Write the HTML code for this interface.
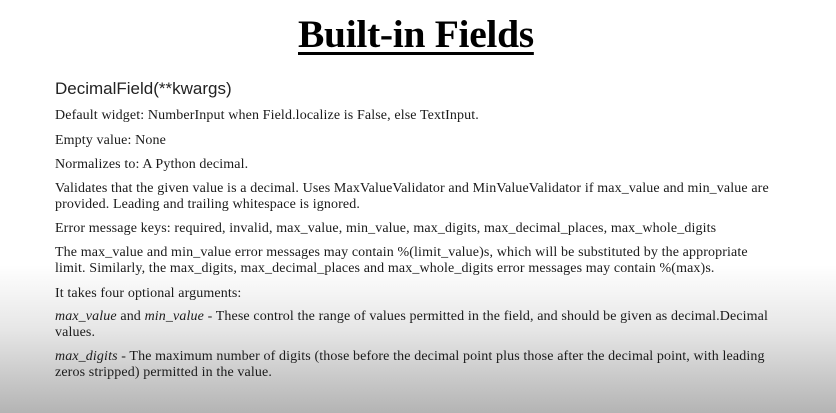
<!DOCTYPE html>
<html><head><meta charset="utf-8"><style>
body{margin:0;width:836px;height:413px;overflow:hidden;position:relative;
background:linear-gradient(to bottom,#fff 0px,#fff 265px,#e6e6e6 330px,#b4b4b4 413px);
font-family:"Liberation Serif",serif;color:#1a1a1a}
.t{position:absolute;left:298px;top:11px;font-size:39.5px;font-weight:bold;text-decoration:underline;text-decoration-thickness:3px;text-underline-offset:5px;color:#000;white-space:nowrap;letter-spacing:-0.3px}
.h{position:absolute;left:55px;top:79px;font-family:"Liberation Sans",sans-serif;font-size:17px;white-space:nowrap;color:#222}
.l{position:absolute;left:55px;font-size:14px;white-space:nowrap;line-height:16px;letter-spacing:0.12px}
i{font-style:italic}
</style></head><body>
<div class="t">Built-in Fields</div>
<div class="h">DecimalField(**kwargs)</div>
<div class="l" style="top:108px">Default widget: NumberInput when Field.localize is False, else TextInput.</div>
<div class="l" style="top:133px">Empty value: None</div>
<div class="l" style="top:157px">Normalizes to: A Python decimal.</div>
<div class="l" style="top:181px">Validates that the given value is a decimal. Uses MaxValueValidator and MinValueValidator if max_value and min_value are</div>
<div class="l" style="top:197px">provided. Leading and trailing whitespace is ignored.</div>
<div class="l" style="top:221px">Error message keys: required, invalid, max_value, min_value, max_digits, max_decimal_places, max_whole_digits</div>
<div class="l" style="top:245px">The max_value and min_value error messages may contain %(limit_value)s, which will be substituted by the appropriate</div>
<div class="l" style="top:261px">limit. Similarly, the max_digits, max_decimal_places and max_whole_digits error messages may contain %(max)s.</div>
<div class="l" style="top:286px">It takes four optional arguments:</div>
<div class="l" style="top:309px"><i>max_value</i> and <i>min_value</i> - These control the range of values permitted in the field, and should be given as decimal.Decimal</div>
<div class="l" style="top:325px">values.</div>
<div class="l" style="top:349px"><i>max_digits</i> - The maximum number of digits (those before the decimal point plus those after the decimal point, with leading</div>
<div class="l" style="top:365px">zeros stripped) permitted in the value.</div>
</body></html>
